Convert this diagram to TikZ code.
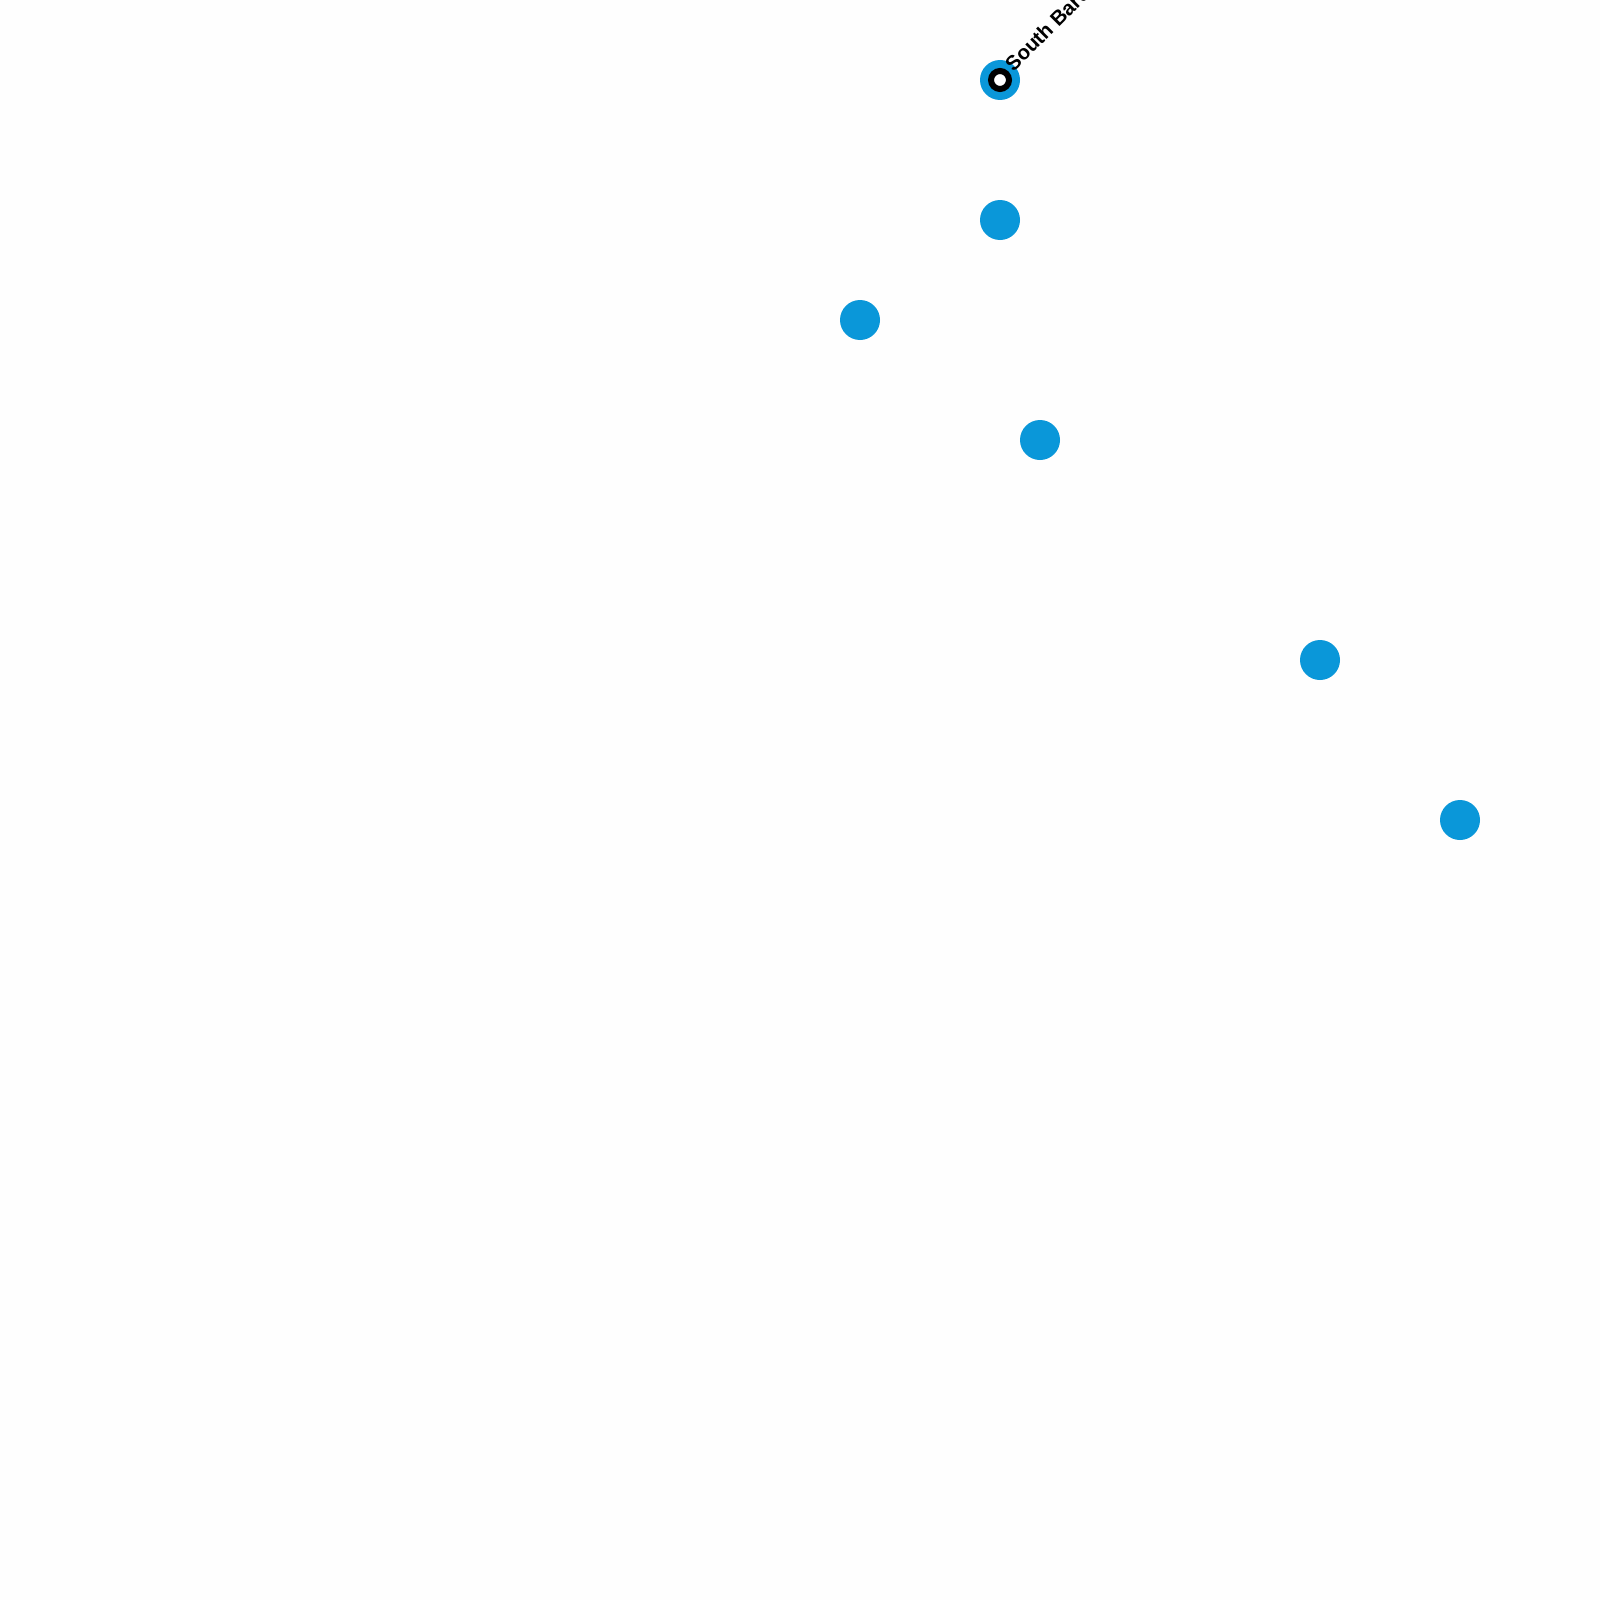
\documentclass[tikz,border=0pt]{standalone}
\usepackage{fontspec}
\setmainfont{Liberation Sans}
\definecolor{stopblue}{HTML}{0A97D9}
\tikzset{
  stopdot/.style={circle,fill=stopblue,draw=none,minimum size=40pt,inner sep=0pt},
  ringdot/.style={circle,fill=white,draw=black,line width=6pt,minimum size=18pt,inner sep=0pt},
  stoplabel/.style={font=\bfseries\fontsize{20.4pt}{25pt}\selectfont,text=black,rotate=45,anchor=base west,inner sep=0pt}
}
\begin{document}
\begin{tikzpicture}[x=1pt,y=-1pt]
\path[use as bounding box,clip] (0,0) rectangle (1600,1600);
\fill[white!99.5!black] (0,0) rectangle (1600,1600);
\node[stopdot] (a) at (1000,80) {};
\node[stopdot] (b) at (1000,220) {};
\node[stopdot] (c) at (860,320) {};
\node[stopdot] (d) at (1040,440) {};
\node[stopdot] (e) at (1320,660) {};
\node[stopdot] (f) at (1460,820) {};
\node[ringdot] (r) at (1000,80) {};
\node[stoplabel] (t) at (1013.5,72.5) {South Bard};
\end{tikzpicture}
\end{document}
